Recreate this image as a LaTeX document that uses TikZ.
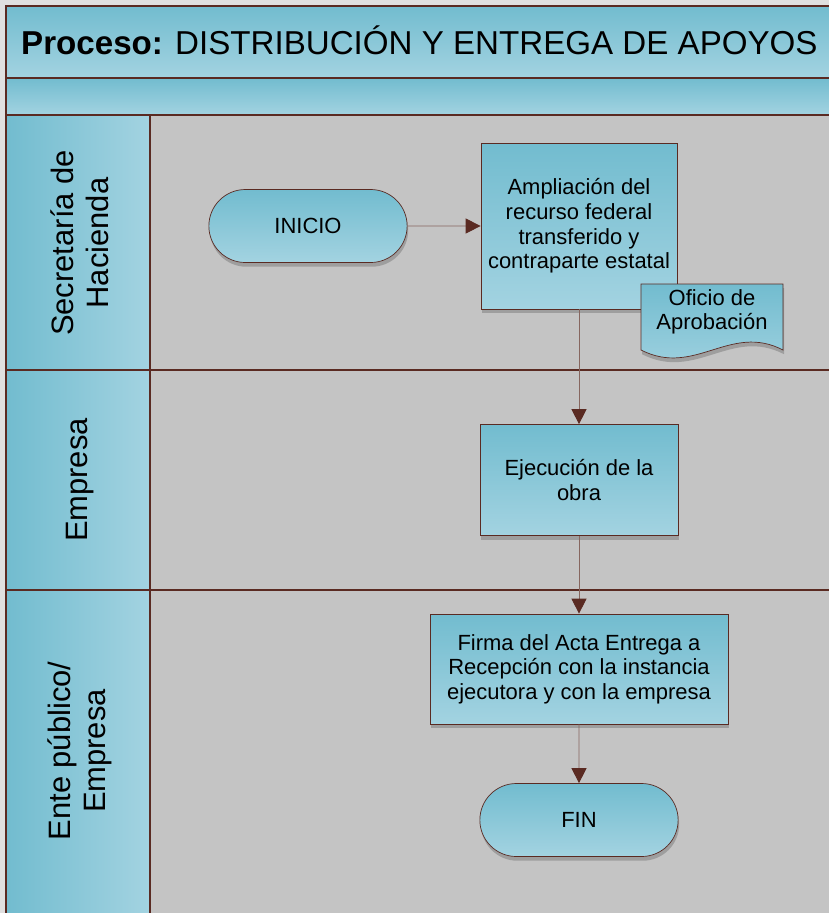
\documentclass[tikz,border=0pt]{standalone}
\usepackage{fontspec}
\setmainfont{Liberation Sans}
\usetikzlibrary{positioning,shapes.misc,arrows.meta,shadows}
\definecolor{marron}{HTML}{5A2A22}
\definecolor{azulo}{HTML}{72BCCF}
\definecolor{azulc}{HTML}{A3D3E1}
\definecolor{fondo}{HTML}{C4C4C4}
\definecolor{linea}{HTML}{86665F}

\begin{document}
\begin{tikzpicture}[node distance=2cm, on grid,
    sombra/.style={drop shadow={shadow xshift=0.6pt, shadow yshift=-2.4pt, fill=black!50, opacity=.55}},
    proc/.style={rectangle, draw=marron, top color=azulo, bottom color=azulc, align=center, sombra, font=\fontsize{12.5}{14}\selectfont},
    term/.style={proc, rounded rectangle, minimum width=4.2cm, minimum height=1.46cm},
    carril/.style={rotate=90, align=center, font=\fontsize{17.6}{20}\selectfont},
    arr/.style={draw=linea, line width=0.5pt, -{Triangle[length=8.5pt,width=8.5pt,color=marron]}}]
    \useasboundingbox (0,0) rectangle (16.58,-18.26);
    % bandas y carriles
    \fill[black!12] (0,0) rectangle (16.58,-18.26);
    \shade[top color=azulo, bottom color=azulc] (0.12,-0.12) rectangle (16.62,-1.56);
    \shade[top color=azulo, bottom color=azulc] (0.12,-1.56) rectangle (16.62,-2.3);
    \fill[fondo] (3,-2.3) rectangle (16.62,-18.3);
    \shade[left color=azulo, right color=azulc] (0.12,-2.3) rectangle (3,-18.3);
    \draw[marron, line width=0.9pt] (0.12,-0.12) rectangle (16.62,-18.3);
    \draw[marron, line width=0.9pt] (0.12,-1.56) -- (16.62,-1.56);
    \draw[marron, line width=0.9pt] (0.12,-2.3) -- (16.62,-2.3);
    \draw[marron, line width=0.9pt] (0.12,-7.4) -- (16.62,-7.4);
    \draw[marron, line width=0.9pt] (0.12,-11.8) -- (16.62,-11.8);
    \draw[marron, line width=0.9pt] (3,-2.3) -- (3,-18.3);
    \node[anchor=west, font=\fontsize{18.85}{20}\selectfont] (titulo) at (0.3,-0.8) {\textbf{Proceso:} DISTRIBUCIÓN Y ENTREGA DE APOYOS};
    \node[carril] (hacienda) at (1.6,-4.86) {Secretaría de\\Hacienda};
    \node[carril] (empresa) at (1.6,-9.6) {Empresa};
    \node[carril] (ente) at (1.6,-15.02) {Ente público/\\Empresa};
    % flujo
    \node[proc, minimum width=3.92cm, minimum height=3.32cm] (ampl) at (11.58,-4.52) {Ampliación del\\recurso federal\\transferido y\\contraparte estatal};
    \node[term, left=5.42cm of ampl] (inicio) {INICIO};
    \node[proc, minimum width=3.96cm, minimum height=2.22cm, below=5.08cm of ampl] (ejec) {Ejecución de la\\obra};
    \node[proc, minimum width=5.96cm, minimum height=2.2cm, below=3.78cm of ejec] (firma) {Firma del Acta Entrega a\\Recepción con la instancia\\ejecutora y con la empresa};
    \node[term, below=3.02cm of firma] (fin) {FIN};
    \path[draw=marron, top color=azulo, bottom color=azulc, sombra] (12.82,-5.68) -- (15.66,-5.68) -- (15.66,-7.0) .. controls (14.6,-6.45) and (13.9,-7.55) .. (12.82,-7.0) -- cycle;
    \node[align=center, font=\fontsize{12.5}{14}\selectfont] (oficio) at (14.24,-6.24) {Oficio de\\Aprobación};
    \path[arr] (inicio) edge (ampl);
    \path[arr] (ampl) edge (ejec);
    \path[arr] (ejec) edge (firma);
    \path[arr] (firma) edge (fin);
\end{tikzpicture}
\end{document}
